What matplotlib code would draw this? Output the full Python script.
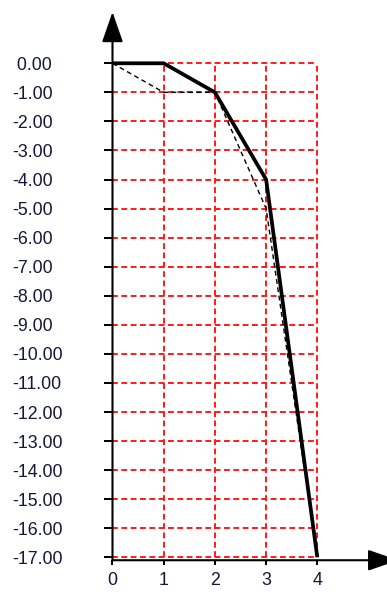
import matplotlib
matplotlib.use("Agg")
import matplotlib.pyplot as plt

# data
x_vals = [0, 1, 2, 3, 4]
solid_y = [0, 0, -1, -4, -17]
dashed_y = [0, -1, -1, -5, -17]

y_ticks = list(range(0, -18, -1))
y_labels = [f"{v:.2f}" if v < 0 else f" {v:.2f}" for v in y_ticks]
x_ticks = [0, 1, 2, 3, 4]
x_labels = ["0", "1", "2", "3", "4"]

X_AXIS_AT = -17.1
TEXT_KW = dict(family=["Liberation Sans", "DejaVu Sans"], size=12.8, color="#16163a")
RED = "#ff1a1a"

fig = plt.figure(figsize=(3.87, 5.92), dpi=100)
ax = fig.add_axes([0, 0, 1, 1])
ax.set_xlim(-2.197, 5.361)
ax.set_ylim(-18.193, 2.178)

# red dashed grid, limited to the data box
ax.hlines(y_ticks, 0, max(x_ticks), colors=RED, lw=1.4,
          linestyles=(0, (3, 1.8)), zorder=1)
ax.vlines(x_ticks[1:], min(y_ticks), 0, colors=RED, lw=1.4,
          linestyles=(0, (3, 1.8)), zorder=1)

# the two curves
ax.plot(x_vals, dashed_y, color="black", lw=1.0, ls=(0, (3.5, 2.5)), zorder=3)
ax.plot(x_vals, solid_y, color="black", lw=2.7, zorder=4,
        solid_joinstyle="miter", solid_capstyle="butt")

# axes drawn as arrows
arrow = dict(arrowstyle="-|>,head_length=18.7,head_width=6.5", mutation_scale=1,
             color="black", lw=1.5, shrinkA=0, shrinkB=0)
ax.annotate("", xy=(0, 1.765), xytext=(0, X_AXIS_AT), arrowprops=arrow,
            annotation_clip=False, zorder=5)
ax.annotate("", xy=(5.58, X_AXIS_AT), xytext=(0, X_AXIS_AT), arrowprops=arrow,
            annotation_clip=False, zorder=5)

for side in ("top", "right", "left", "bottom"):
    ax.spines[side].set_visible(False)
ax.spines["left"].set_position(("data", 0))
ax.spines["bottom"].set_position(("data", X_AXIS_AT))

ax.set_yticks(y_ticks)
ax.set_yticklabels(y_labels, **TEXT_KW)
ax.set_xticks(x_ticks)
ax.set_xticklabels(x_labels, **TEXT_KW)
ax.tick_params(axis="y", direction="out", length=6.1, width=1.45, pad=66.3)
ax.tick_params(axis="x", direction="out", length=3.6, width=1.45, pad=5)
for lab in ax.get_yticklabels():
    lab.set_horizontalalignment("left")

fig.savefig("out.png", dpi=100)
plt.close(fig)
